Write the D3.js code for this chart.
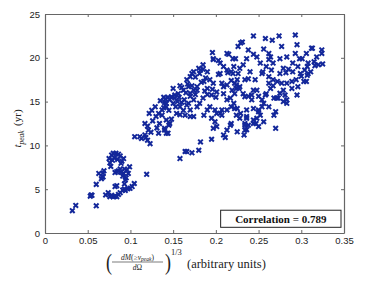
<!DOCTYPE html>
<html>
<head>
<meta charset="utf-8">
<script src="https://cdn.jsdelivr.net/npm/d3@7"></script>
<style>
  body { margin: 0; background: #fff; }
</style>
</head>
<body>
<div id="chart"></div>
<script>
// tick values
var xTicks = [0, 0.05, 0.1, 0.15, 0.2, 0.25, 0.3, 0.35]
var yTicks = [0, 5, 10, 15, 20, 25]
var correlation = "0.789"

// halo mass measure (x) vs peak time (y)
var lowGroup = [[0.032,2.55],[0.036,3.15],[0.053,4.2],[0.055,4.3],[0.060,3.1],[0.054,4.35],[0.060,5.55],[0.063,6.8],
  [0.066,6.2],[0.067,6.4],[0.068,6.85],[0.069,7.1],[0.068,6.4]]

var loopGroup = [[0.071,4.35],[0.074,4.6],[0.076,4.15],[0.078,4.3],[0.080,4.15],[0.082,4.2],[0.084,4.15],[0.086,4.4],
  [0.082,5.3],[0.084,5.4],[0.088,4.6],[0.091,4.9],[0.094,4.85],[0.097,5.05],[0.0995,5.1],[0.102,5.3],[0.1045,5.65],
  [0.093,5.0],[0.094,6.05],[0.095,6.3],[0.092,6.8],[0.0975,6.8],[0.096,7.2],[0.099,7.55],[0.093,7.3],[0.089,7.95],
  [0.092,8.5],[0.083,9.1],[0.086,9.0],[0.078,8.9],[0.080,9.1],[0.075,8.5],[0.076,8.0],[0.077,7.6],[0.079,8.3],
  [0.081,8.6],[0.085,8.4],[0.088,8.8],[0.090,8.2],[0.084,7.0],[0.089,6.95],[0.082,6.9],[0.086,7.1],[0.091,6.5],
  [0.093,5.6],[0.088,7.3]]

var midGroup = [[0.119,6.7],[0.120,10.6],[0.123,10.2],[0.118,10.9],[0.113,10.8],[0.105,11.0],[0.111,11.0],[0.117,11.2],
  [0.121,11.75],[0.117,12.5],[0.120,12.2],[0.122,13.65],[0.129,14.4],[0.133,13.65],[0.137,13.45],[0.134,12.5],
  [0.133,11.4],[0.140,11.75],[0.144,11.4],[0.137,14.05],[0.142,14.4],[0.146,15.2],[0.148,15.55],[0.144,15.5],
  [0.152,15.75],[0.150,14.8],[0.154,13.65],[0.146,12.5],[0.140,14.9],[0.126,12.8],[0.130,13.3],[0.125,14.0],
  [0.135,15.1],[0.139,15.5],[0.141,15.3],[0.145,14.0],[0.148,13.0],[0.131,12.0],[0.124,11.5]]

var denseGroup = [[0.196,20.6],[0.215,20.4],[0.197,19.8],[0.203,19.7],[0.185,19.2],[0.180,18.8],[0.185,18.7],[0.190,18.4],
  [0.181,18.2],[0.176,17.8],[0.172,18.2],[0.193,17.5],[0.197,17.1],[0.207,17.1],[0.213,16.9],[0.218,17.4],[0.224,16.5],
  [0.220,18.2],[0.209,19.0],[0.214,18.3],[0.166,17.5],[0.162,16.3],[0.156,15.9],[0.152,15.4],[0.155,15.0],[0.160,16.6],
  [0.142,14.8],[0.139,14.3],[0.174,16.3],[0.170,15.6],[0.168,14.8],[0.170,14.05],[0.158,14.4],[0.158,13.5],[0.181,14.8],
  [0.185,15.4],[0.193,14.4],[0.199,14.05],[0.205,13.65],[0.213,14.05],[0.218,14.4],[0.209,15.9],[0.217,15.4],[0.222,15.9],
  [0.158,8.5],[0.166,9.3],[0.172,9.15],[0.180,9.45],[0.182,10.4],[0.195,10.7],[0.197,11.95],[0.199,12.7],[0.209,11.2],
  [0.211,10.9],[0.213,11.75],[0.217,12.3],[0.164,9.3],[0.142,12.9],[0.145,12.3],[0.140,11.95],[0.142,11.4],[0.164,13.45],
  [0.170,13.3],[0.174,13.3],[0.207,13.45],[0.163,15.2],[0.165,16.0],[0.158,16.8],[0.150,16.5],[0.157,15.5],[0.160,14.9],
  [0.153,14.4],[0.162,14.0],[0.166,14.6],[0.176,15.8],[0.178,16.7],[0.187,16.2],[0.190,15.8],[0.200,15.5],[0.196,16.4],
  [0.183,17.2],[0.167,17.0],[0.172,16.8],[0.203,18.1],[0.188,17.7],[0.182,18.6],[0.174,18.4],[0.170,17.85],[0.186,17.3],
  [0.190,16.5],[0.195,15.75],[0.201,16.1],[0.209,16.7],[0.219,16.3],[0.205,18.2],[0.213,18.6],[0.221,19.0],[0.205,19.4],
  [0.197,19.9],[0.213,20.5],[0.223,19.9],[0.213,15.2],[0.207,14.05],[0.201,13.65],[0.195,13.1],[0.201,12.15],
  [0.190,14.05],[0.186,13.45],[0.178,14.4],[0.174,15.2],[0.170,15.95],[0.168,16.7],[0.178,16.3]]

var rightGroup = [[0.244,22.5],[0.258,22.2],[0.266,22.0],[0.274,22.5],[0.293,22.6],[0.231,21.8],[0.226,21.3],[0.229,21.7],
  [0.295,21.5],[0.277,21.3],[0.312,21.1],[0.313,21.1],[0.324,20.9],[0.238,20.9],[0.256,21.0],[0.244,20.4],[0.248,20.1],
  [0.262,20.5],[0.293,20.5],[0.306,20.5],[0.324,20.5],[0.318,20.1],[0.298,19.9],[0.275,19.9],[0.262,19.8],[0.220,19.9],
  [0.236,19.9],[0.264,20.1],[0.283,20.1],[0.301,19.9],[0.315,19.55],[0.252,19.4],[0.267,19.4],[0.290,19.4],[0.308,19.4],
  [0.325,19.3],[0.320,19.2],[0.316,19.1],[0.232,19.2],[0.228,18.8],[0.259,19.0],[0.265,18.6],[0.279,18.8],[0.285,18.7],
  [0.296,19.0],[0.304,18.6],[0.307,19.0],[0.311,18.4],[0.307,18.0],[0.218,18.4],[0.226,18.2],[0.240,18.4],[0.255,18.4],
  [0.275,18.2],[0.282,18.3],[0.290,18.4],[0.308,18.2],[0.300,17.9],[0.299,18.2],[0.254,18.2],[0.262,17.85],[0.267,17.5],
  [0.277,17.1],[0.289,17.3],[0.294,17.5],[0.306,17.3],[0.303,17.3],[0.283,17.1],[0.272,17.3],[0.234,17.5],[0.238,17.6],
  [0.246,17.5],[0.225,17.5],[0.222,17.1],[0.224,16.9],[0.228,16.7],[0.262,17.1],[0.267,16.8],[0.279,16.3],[0.289,16.5],
  [0.296,16.7],[0.295,15.75],[0.259,15.9],[0.250,15.6],[0.244,16.3],[0.232,15.9],[0.281,15.75],[0.273,15.4],[0.268,15.4],
  [0.275,15.95],[0.227,16.5],[0.234,15.55],[0.242,15.75],[0.248,16.3],[0.258,15.75],[0.264,16.5],[0.254,15.2],[0.242,15.2],
  [0.238,15.6],[0.271,15.4],[0.279,15.0],[0.283,14.8],[0.283,15.2],[0.256,14.8],[0.254,14.4],[0.262,14.4],[0.250,14.05],
  [0.252,13.45],[0.248,13.1],[0.250,13.85],[0.270,13.85],[0.268,13.45],[0.256,12.7],[0.250,12.15],[0.244,12.5],
  [0.236,13.1],[0.229,13.65],[0.225,14.2],[0.221,14.8],[0.236,14.05],[0.244,14.2],[0.222,14.2],[0.224,13.45],
  [0.228,13.1],[0.236,13.3],[0.234,12.5],[0.238,12.3],[0.244,12.9],[0.247,12.5],[0.218,12.5],[0.236,11.8],[0.234,12.3],
  [0.270,11.95],[0.225,11.55],[0.234,11.75],[0.233,11.2]]

var points = lowGroup.concat(loopGroup, midGroup, denseGroup, rightGroup)

var width = 374, height = 281
var margin = { top: 14, right: 30, bottom: 48, left: 45 }

var svg = d3.select("#chart").append("svg")
  .attr("width", width)
  .attr("height", height)

var x = d3.scaleLinear().domain([0, 0.35]).range([margin.left, width - margin.right])
var y = d3.scaleLinear().domain([0, 25]).range([height - margin.bottom, margin.top])

var frameColor = "#666"
var sans = "'Liberation Sans', Arial, sans-serif"
var serif = "'Liberation Serif', 'Times New Roman', serif"

// points (MATLAB style 'x' markers)
var s = 2.3
svg.append("g")
  .attr("stroke", "#13279a")
  .attr("stroke-width", 2)
  .attr("fill", "none")
  .selectAll("path")
  .data(points)
  .join("path")
  .attr("d", d => {
    var cx = x(d[0]), cy = y(d[1])
    return `M${cx - s},${cy - s}L${cx + s},${cy + s}M${cx - s},${cy + s}L${cx + s},${cy - s}`
  })

// axes, ticks pointing inward on all four sides
var tickLen = 3
var xBottom = svg.append("g")
  .attr("transform", `translate(0,${y(0)})`)
  .call(d3.axisBottom(x).tickValues(xTicks).tickSizeInner(-tickLen).tickSizeOuter(0).tickPadding(4)
    .tickFormat(d => d === 0 ? "0" : d3.format("~g")(d)))
var xTop = svg.append("g")
  .attr("transform", `translate(0,${y(25)})`)
  .call(d3.axisTop(x).tickValues(xTicks).tickSizeInner(-tickLen).tickSizeOuter(0).tickFormat(""))
var yLeft = svg.append("g")
  .attr("transform", `translate(${x(0)},0)`)
  .call(d3.axisLeft(y).tickValues(yTicks).tickSizeInner(-tickLen).tickSizeOuter(0).tickPadding(5))
var yRight = svg.append("g")
  .attr("transform", `translate(${x(0.35)},0)`)
  .call(d3.axisRight(y).tickValues(yTicks).tickSizeInner(-tickLen).tickSizeOuter(0).tickFormat(""))

;[xBottom, xTop, yLeft, yRight].forEach(g => {
  g.select(".domain").attr("stroke", frameColor).attr("stroke-width", 1.2)
  g.selectAll(".tick line").attr("stroke", frameColor)
  g.selectAll("text").attr("fill", "#222").attr("font-size", 9.5).attr("font-family", sans)
})

// correlation box
var boxX0 = x(0.15) + 47.5, boxX1 = x(0.35) - 3
var boxY0 = y(2.6), boxY1 = y(0.65)
svg.append("rect")
  .attr("x", boxX0).attr("y", boxY0)
  .attr("width", boxX1 - boxX0).attr("height", boxY1 - boxY0)
  .attr("fill", "#fff").attr("stroke", "#222").attr("stroke-width", 1)
svg.append("text")
  .attr("x", (boxX0 + boxX1) / 2)
  .attr("y", (boxY0 + boxY1) / 2)
  .attr("dy", "0.35em")
  .attr("text-anchor", "middle")
  .attr("font-family", serif)
  .attr("font-size", 11)
  .attr("font-weight", "bold")
  .attr("fill", "#111")
  .text("Correlation = " + correlation)

// y label: t_peak (yr)
var yl = svg.append("text")
  .attr("transform", `translate(21,${(y(0) + y(25)) / 2 + 5}) rotate(-90)`)
  .attr("text-anchor", "middle")
  .attr("font-family", serif)
  .attr("fill", "#222")
  .attr("font-size", 11)
yl.append("tspan").attr("font-style", "italic").text("t")
yl.append("tspan").attr("font-style", "italic").attr("font-size", 7.5).attr("dy", 2.5).text("peak")
yl.append("tspan").attr("dy", -2.5).text("\u2009\u2009(yr)")

// x label: (dM(>=v_peak)/dOmega)^(1/3) (arbitrary units)
var xl = svg.append("g").attr("fill", "#222")
var fx0 = 111, fx1 = 164, fy = 262
xl.append("text").attr("font-family", serif).attr("font-size", 24).attr("font-weight", 200)
  .attr("transform", `translate(${fx0 - 5},270) scale(0.75,1)`)
  .text("(")
xl.append("text").attr("font-family", serif).attr("font-size", 24).attr("font-weight", 200)
  .attr("transform", `translate(${fx1 + 1},270) scale(0.75,1)`)
  .text(")")
var num = xl.append("text").attr("x", (fx0 + fx1) / 2).attr("y", fy - 2.5).attr("font-family", serif)
  .attr("text-anchor", "middle").attr("font-size", 7.5).attr("font-style", "italic")
num.append("tspan").text("dM")
num.append("tspan").attr("font-style", "normal").text("(\u2265")
num.append("tspan").text("v")
num.append("tspan").attr("font-size", 5.5).attr("dy", 1.5).text("peak")
num.append("tspan").attr("font-style", "normal").attr("dy", -1.5).text(")")
xl.append("line").attr("x1", fx0 + 1).attr("x2", fx1 - 1).attr("y1", fy).attr("y2", fy)
  .attr("stroke", "#222").attr("stroke-width", 0.6)
var den = xl.append("text").attr("x", (fx0 + fx1) / 2).attr("y", fy + 7.5).attr("font-family", serif)
  .attr("text-anchor", "middle").attr("font-size", 7.5)
den.append("tspan").attr("font-style", "italic").text("d")
den.append("tspan").text("\u03a9")
xl.append("text").attr("x", 171).attr("y", 255).attr("font-family", serif).attr("font-size", 8.5).text("1/3")
xl.append("text").attr("x", 187).attr("y", 268).attr("font-family", serif).attr("font-size", 12.5)
  .text("(arbitrary units)")
</script>
</body>
</html>
